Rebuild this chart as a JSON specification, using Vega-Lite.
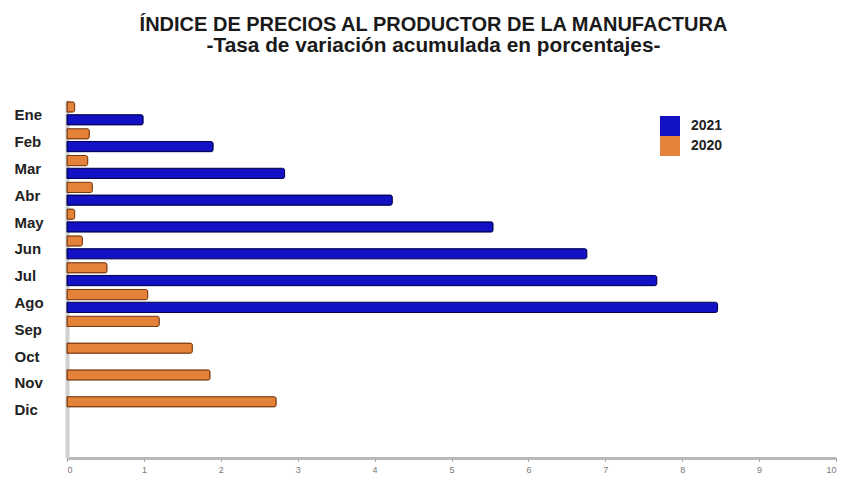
{
  "$schema": "https://vega.github.io/schema/vega-lite/v6.json",
  "width": 769,
  "height": 358,
  "autosize": {"type": "none"},
  "padding": {"left": 67, "top": 100, "right": 10, "bottom": 26},
  "background": "white",
  "title": {
    "text": "ÍNDICE DE PRECIOS AL PRODUCTOR DE LA MANUFACTURA",
    "subtitle": "-Tasa de variación acumulada en porcentajes-",
    "anchor": "middle",
    "frame": "group",
    "dx": -18,
    "offset": 44,
    "font": "Liberation Sans",
    "fontSize": 20,
    "fontWeight": "bold",
    "color": "#1a1a1a",
    "subtitleFont": "Liberation Sans",
    "subtitleFontSize": 20.8,
    "subtitleFontWeight": "bold",
    "subtitleColor": "#1a1a1a",
    "subtitlePadding": 1
  },
  "data": {
    "values": [
      {"mes": "Ene", "anio": "2021", "valor": 0.99},
      {"mes": "Feb", "anio": "2021", "valor": 1.90},
      {"mes": "Mar", "anio": "2021", "valor": 2.83},
      {"mes": "Abr", "anio": "2021", "valor": 4.23},
      {"mes": "May", "anio": "2021", "valor": 5.54},
      {"mes": "Jun", "anio": "2021", "valor": 6.76},
      {"mes": "Jul", "anio": "2021", "valor": 7.67},
      {"mes": "Ago", "anio": "2021", "valor": 8.46},
      {"mes": "Ene", "anio": "2020", "valor": 0.10},
      {"mes": "Feb", "anio": "2020", "valor": 0.29},
      {"mes": "Mar", "anio": "2020", "valor": 0.27},
      {"mes": "Abr", "anio": "2020", "valor": 0.33},
      {"mes": "May", "anio": "2020", "valor": 0.10},
      {"mes": "Jun", "anio": "2020", "valor": 0.20},
      {"mes": "Jul", "anio": "2020", "valor": 0.52},
      {"mes": "Ago", "anio": "2020", "valor": 1.05},
      {"mes": "Sep", "anio": "2020", "valor": 1.20},
      {"mes": "Oct", "anio": "2020", "valor": 1.63},
      {"mes": "Nov", "anio": "2020", "valor": 1.86},
      {"mes": "Dic", "anio": "2020", "valor": 2.72}
    ]
  },
  "mark": {"type": "bar", "strokeWidth": 1, "cornerRadiusEnd": 2},
  "encoding": {
    "y": {
      "field": "mes",
      "type": "nominal",
      "sort": ["Ene", "Feb", "Mar", "Abr", "May", "Jun", "Jul", "Ago", "Sep", "Oct", "Nov", "Dic"],
      "scale": {"paddingInner": 0, "paddingOuter": 0.68, "align": 0},
      "axis": {
        "title": null,
        "labelAlign": "left",
        "labelPadding": 53,
        "labelFont": "Liberation Sans",
        "labelFontSize": 15,
        "labelFontWeight": "bold",
        "labelColor": "#222222",
        "labelOffset": 2,
        "ticks": false,
        "domainColor": "#d0d0d0",
        "domainWidth": 4,
        "grid": false
      }
    },
    "yOffset": {
      "field": "anio",
      "type": "nominal",
      "sort": ["2020", "2021"],
      "scale": {"paddingInner": 0.2, "paddingOuter": 0.15}
    },
    "x": {
      "field": "valor",
      "type": "quantitative",
      "scale": {"domain": [0, 10], "nice": false},
      "axis": {
        "title": null,
        "values": [0, 1, 2, 3, 4, 5, 6, 7, 8, 9, 10],
        "grid": false,
        "domainColor": "#b8b8b8",
        "domainWidth": 3,
        "tickColor": "#888888",
        "tickSize": 3,
        "labelFont": "Liberation Sans",
        "labelFontSize": 9,
        "labelColor": "#777777",
        "labelPadding": 4
      }
    },
    "color": {
      "field": "anio",
      "type": "nominal",
      "scale": {"domain": ["2021", "2020"], "range": ["#1212c4", "#e5823a"]},
      "legend": {
        "title": null,
        "orient": "none",
        "legendX": 593,
        "legendY": 16,
        "symbolType": "square",
        "symbolSize": 400,
        "symbolStrokeWidth": 0,
        "rowPadding": 0,
        "labelFont": "Liberation Sans",
        "labelFontSize": 14,
        "labelFontWeight": "bold",
        "labelColor": "#222222",
        "labelOffset": 11
      }
    },
    "stroke": {
      "field": "anio",
      "type": "nominal",
      "scale": {"domain": ["2021", "2020"], "range": ["#000050", "#7a3a10"]},
      "legend": null
    }
  },
  "config": {"view": {"stroke": null}}
}
